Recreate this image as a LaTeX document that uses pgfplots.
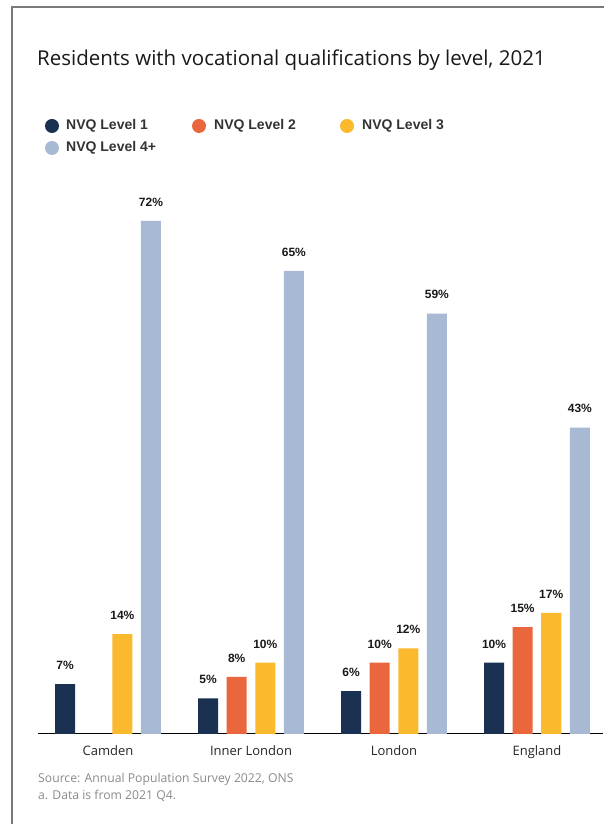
\documentclass[border=0pt]{standalone}
\usepackage{pgfplots}
\pgfplotsset{compat=1.18}
\usepackage{fontspec}
\setmainfont{Open Sans}
\newfontfamily\labfont{Liberation Sans}

\definecolor{lvone}{HTML}{1B3151}
\definecolor{lvtwo}{HTML}{EA673D}
\definecolor{lvthree}{HTML}{FBB92D}
\definecolor{lvfour}{HTML}{A8B9D3}
\definecolor{frame}{HTML}{7A7A7A}
\definecolor{baseline}{HTML}{CDD6E8}
\definecolor{srcgray}{HTML}{8A8A8A}

\begin{document}
\begin{tikzpicture}
% frame
\draw[frame, line width=1.5pt] (12pt,-2pt) -- (12pt,817pt) -- (610pt,817pt);
% title
\node[anchor=base west, inner sep=0pt, font=\fontsize{20.5}{24}\selectfont, text=black!90]
  at (37pt,758pt) {Residents with vocational qualifications by level, 2021};
% legend
\begin{scope}[font=\labfont\bfseries\fontsize{14}{16}\selectfont, text=black!80]
\fill[lvone]   (52pt,698pt) circle (7pt);
\node[anchor=west, inner sep=0pt] at (66pt,698pt) {NVQ Level 1};
\fill[lvtwo]   (199pt,698pt) circle (7pt);
\node[anchor=west, inner sep=0pt] at (214pt,698pt) {NVQ Level 2};
\fill[lvthree] (347pt,698pt) circle (7pt);
\node[anchor=west, inner sep=0pt] at (362pt,698pt) {NVQ Level 3};
\fill[lvfour]  (52pt,676pt) circle (7pt);
\node[anchor=west, inner sep=0pt] at (66pt,676pt) {NVQ Level 4+};
\end{scope}

\begin{axis}[
    at={(38pt,90pt)}, anchor=south west,
    scale only axis,
    width=565pt, height=570pt,
    xmin=-0.49, xmax=3.462,
    ymin=0, ymax=80,
    axis x line*=bottom,
    axis y line=none,
    x axis line style={baseline, line width=1pt, -},
    xtick={0,1,2,3},
    xticklabels={Camden, Inner London, London, England},
    major tick length=0pt,
    xticklabel style={font=\fontsize{13}{15}\selectfont, text=black!85, yshift=-8pt},
    ytick=\empty,
    ybar,
    bar width=0.14,
    clip=false,
    /pgf/number format/assume math mode=true,
    nodes near coords={\pgfmathprintnumber{\pgfplotspointmeta}\%},
    every node near coord/.append style={font=\labfont\bfseries\fontsize{12}{14}\selectfont, text=black!90, yshift=11pt},
]
\addplot[fill=lvone, draw=none, bar shift=-0.3]
  coordinates {(0,7) (1,5) (2,6) (3,10)};
\addplot[fill=lvtwo, draw=none, bar shift=-0.1]
  coordinates {(1,8) (2,10) (3,15)};
\addplot[fill=lvthree, draw=none, bar shift=0.1]
  coordinates {(0,14) (1,10) (2,12) (3,17)};
\addplot[fill=lvfour, draw=none, bar shift=0.3]
  coordinates {(0,72) (1,65) (2,59) (3,43)};
\end{axis}

% source
\begin{scope}[font=\fontsize{12.2}{14}\selectfont, text=srcgray]
\node[anchor=base west, inner sep=0pt] at (38pt,41pt) {Source: Annual Population Survey 2022, ONS};
\node[anchor=base west, inner sep=0pt] at (38pt,24pt) {a. Data is from 2021 Q4.};
\end{scope}

\pgfresetboundingbox
\path[use as bounding box] (0,0) rectangle (603pt,824pt);
\end{tikzpicture}
\end{document}
